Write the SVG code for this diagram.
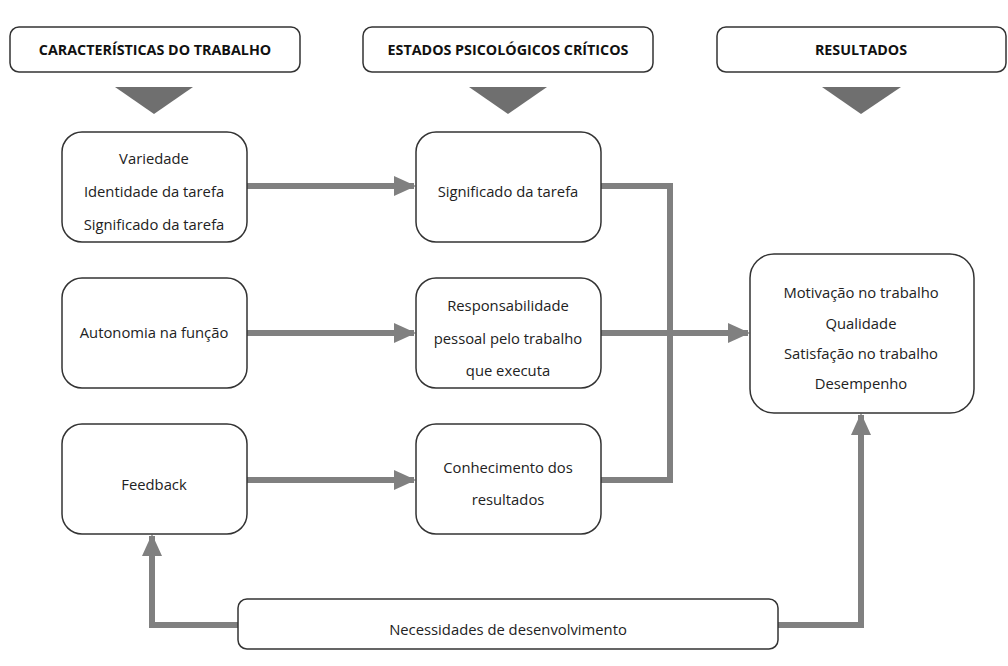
<svg xmlns="http://www.w3.org/2000/svg" width="1008" height="666" viewBox="0 0 1008 666">
<defs>
<style>
.box{fill:#fff;stroke:#333;stroke-width:1.5}
.t{font-family:"Open Sans","Liberation Sans",sans-serif;font-size:14.8px;fill:#222;text-anchor:middle}
.h{font-family:"Open Sans","Liberation Sans",sans-serif;font-size:14.3px;font-weight:bold;fill:#111;text-anchor:middle}
.c{fill:none;stroke:#808080;stroke-width:6}
.tri{fill:#6f6f6f}
</style>
<marker id="ah" markerUnits="userSpaceOnUse" markerWidth="22" markerHeight="20" refX="20" refY="10" orient="auto">
<path d="M0,0 L22,10 L0,20 Z" fill="#808080"/>
</marker>
</defs>
<rect width="1008" height="666" fill="#fff"/>
<g id="connectors">
<line class="c" x1="247" y1="186" x2="414" y2="186" marker-end="url(#ah)"/>
<line class="c" x1="247" y1="333" x2="414" y2="333" marker-end="url(#ah)"/>
<line class="c" x1="247" y1="480" x2="414" y2="480" marker-end="url(#ah)"/>
<polyline class="c" points="601,186 670,186 670,483"/>
<line class="c" x1="601" y1="480" x2="673" y2="480"/>
<line class="c" x1="601" y1="333" x2="748" y2="333" marker-end="url(#ah)"/>
<polyline class="c" points="238,625 152,625 152,536" marker-end="url(#ah)"/>
<polyline class="c" points="778,625 861,625 861,415" marker-end="url(#ah)"/>
</g>
<g id="h1"><rect class="box" x="10" y="27" width="290" height="45" rx="9"/><text class="h" x="155" y="55">CARACTERÍSTICAS DO TRABALHO</text><polygon class="tri" points="115,87 193,87 154,114"/></g>
<g id="h2"><rect class="box" x="363" y="27" width="290" height="45" rx="9"/><text class="h" x="508" y="55">ESTADOS PSICOLÓGICOS CRÍTICOS</text><polygon class="tri" points="469,87 547,87 508,114"/></g>
<g id="h3"><rect class="box" x="717" y="27" width="289" height="45" rx="9"/><text class="h" x="861" y="55">RESULTADOS</text><polygon class="tri" points="822,87 901,87 861,114"/></g>
<g id="n1"><rect class="box" x="62" y="132" width="185" height="110" rx="20"/><text class="t" x="154" y="164">Variedade</text><text class="t" x="154" y="197">Identidade da tarefa</text><text class="t" x="154" y="230">Significado da tarefa</text></g>
<g id="n2"><rect class="box" x="62" y="278" width="185" height="110" rx="20"/><text class="t" x="154" y="338">Autonomia na função</text></g>
<g id="n3"><rect class="box" x="62" y="424" width="185" height="110" rx="20"/><text class="t" x="154" y="490">Feedback</text></g>
<g id="n4"><rect class="box" x="416" y="132" width="185" height="110" rx="20"/><text class="t" x="508" y="197">Significado da tarefa</text></g>
<g id="n5"><rect class="box" x="416" y="278" width="185" height="110" rx="20"/><text class="t" x="508" y="311">Responsabilidade</text><text class="t" x="508" y="344">pessoal pelo trabalho</text><text class="t" x="508" y="376">que executa</text></g>
<g id="n6"><rect class="box" x="416" y="424" width="185" height="110" rx="20"/><text class="t" x="508" y="473">Conhecimento dos</text><text class="t" x="508" y="505">resultados</text></g>
<g id="n7"><rect class="box" x="750" y="254" width="224" height="159" rx="24"/><text class="t" x="861" y="298">Motivação no trabalho</text><text class="t" x="861" y="329">Qualidade</text><text class="t" x="861" y="359">Satisfação no trabalho</text><text class="t" x="861" y="389">Desempenho</text></g>
<g id="n8"><rect class="box" x="238" y="599" width="540" height="50" rx="9"/><text class="t" x="508" y="635">Necessidades de desenvolvimento</text></g>
</svg>
